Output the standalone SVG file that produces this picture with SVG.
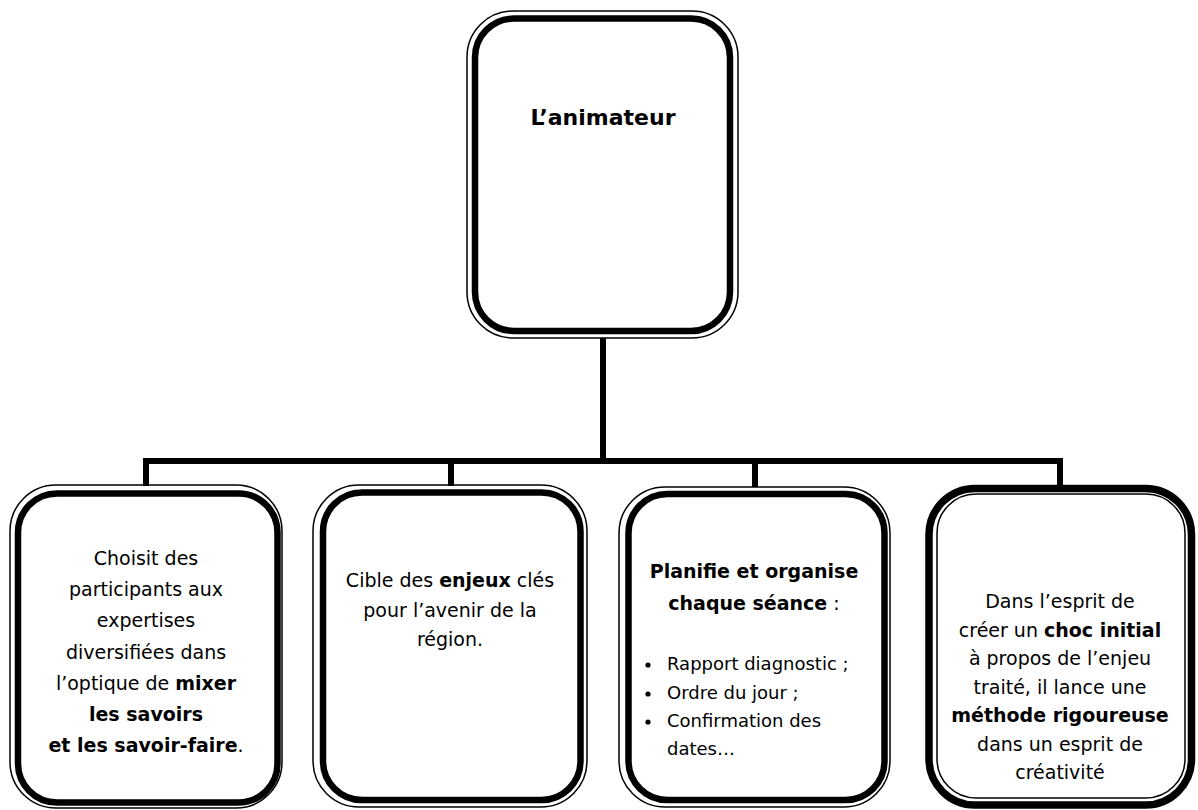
<svg xmlns="http://www.w3.org/2000/svg" width="1198" height="810" viewBox="0 0 1198 810">
<style>
.thin{fill:none;stroke:#000;stroke-width:1.5}
.thick{fill:none;stroke:#000;stroke-width:6.5}
.thick2{fill:none;stroke:#000;stroke-width:7.5}
.conn{fill:none;stroke:#000;stroke-width:6;stroke-linejoin:miter;stroke-linecap:butt}
text{font-family:"Comic Sans MS","DejaVu Sans",sans-serif;font-size:19px;fill:#000}
.c{text-anchor:middle}
.b{font-weight:bold}
.n{font-weight:normal}
.t{font-size:22px;font-weight:bold}
.s{font-size:18px}
</style>
<rect width="1198" height="810" fill="#fff"/>
<g id="connectors">
<path class="conn" d="M603,338 V461"/>
<path class="conn" d="M146,486 V461 H1060 V487"/>
<path class="conn" d="M451,461 V486"/>
<path class="conn" d="M755,461 V487"/>
</g>
<g id="node-animateur">
<rect class="thin" x="467" y="11" width="271" height="327" rx="46"/>
<rect class="thick" x="475" y="18.5" width="255" height="312.5" rx="39"/>
<text class="c t" x="603" y="125">L’animateur</text>
</g>
<g id="node-participants">
<rect class="thin" x="10" y="485" width="272" height="323" rx="46"/>
<rect class="thick" x="18" y="493.5" width="259.5" height="309" rx="39"/>
<text class="c" x="146" y="565">Choisit des</text>
<text class="c" x="146" y="596">participants aux</text>
<text class="c" x="146" y="627">expertises</text>
<text class="c" x="146" y="659">diversifiées dans</text>
<text class="c" x="146" y="690">l’optique de <tspan class="b">mixer</tspan></text>
<text class="c b" x="146" y="721">les savoirs</text>
<text class="c" x="146" y="752"><tspan class="b">et les savoir-faire</tspan>.</text>
</g>
<g id="node-enjeux">
<rect class="thin" x="313" y="485" width="274" height="322" rx="46"/>
<rect class="thick" x="323" y="492.5" width="257.5" height="307.5" rx="39"/>
<text class="c" x="450" y="587">Cible des <tspan class="b">enjeux</tspan> clés</text>
<text class="c" x="450" y="617">pour l’avenir de la</text>
<text class="c" x="450" y="646">région.</text>
</g>
<g id="node-planifie">
<rect class="thin" x="619" y="487" width="271" height="320" rx="46"/>
<rect class="thick" x="628.5" y="494" width="256" height="306" rx="39"/>
<text class="c b" x="754" y="578">Planifie et organise</text>
<text class="c" x="754" y="610"><tspan class="b">chaque séance</tspan> :</text>
<circle cx="648" cy="665" r="2.6"/>
<circle cx="648" cy="694" r="2.6"/>
<circle cx="648" cy="722" r="2.6"/>
<text class="s" x="667" y="670">Rapport diagnostic ;</text>
<text class="s" x="667" y="699">Ordre du  jour ;</text>
<text class="s" x="667" y="727">Confirmation des</text>
<text class="s" x="667" y="755">dates…</text>
</g>
<g id="node-methode">
<rect class="thick2" x="929" y="488.5" width="262.5" height="316.5" rx="46"/>
<rect class="thin" x="937" y="494" width="248" height="304" rx="39"/>
<text class="c" x="1060" y="608">Dans l’esprit de</text>
<text class="c" x="1060" y="637">créer un <tspan class="b">choc initial</tspan></text>
<text class="c" x="1060" y="665">à propos de l’enjeu</text>
<text class="c" x="1060" y="694">traité, il lance une</text>
<text class="c b" x="1060" y="722">méthode rigoureuse</text>
<text class="c" x="1060" y="751">dans un esprit de</text>
<text class="c" x="1060" y="779">créativité</text>
</g>
</svg>
